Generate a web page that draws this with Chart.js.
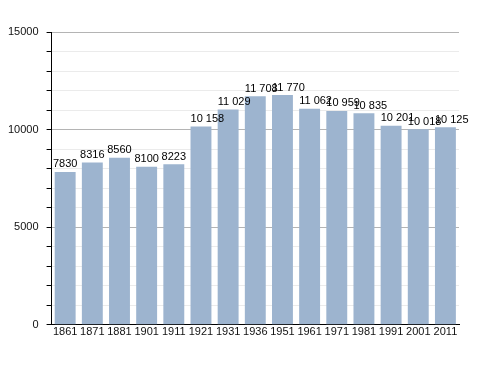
<!DOCTYPE html>
<html>
<head>
<meta charset="utf-8">
<script src="https://cdn.jsdelivr.net/npm/chart.js@4.4.0/dist/chart.umd.min.js"></script>
<style>
  html, body { margin: 0; padding: 0; background: #fff; }
  #chart { display: block; }
</style>
</head>
<body>
<canvas id="chart" width="488" height="373"></canvas>
<script>
const years = ['1861', '1871', '1881', '1901', '1911', '1921', '1931', '1936',
    '1951', '1961', '1971', '1981', '1991', '2001', '2011'];
const population = [7830, 8316, 8560, 8100, 8223, 10158, 11029, 11708,
    11770, 11062, 10959, 10835, 10201, 10018, 10125];

// "10 158" style, no separator under 10000
const formatValue = (v) => v >= 10000 ? String(v).replace(/\B(?=(\d{3})+(?!\d))/g, ' ') : String(v);

// value labels above the bars; the long ones start at the bar's left edge
const valueLabels = {
    id: 'valueLabels',
    afterDatasetsDraw: (chart) => {
        const ctx = chart.ctx;
        const meta = chart.getDatasetMeta(0);
        ctx.save();
        ctx.font = '11px "Liberation Sans", Arial, sans-serif';
        ctx.fillStyle = '#000';
        ctx.textBaseline = 'bottom';
        meta.data.forEach((bar, i) => {
            const v = population[i];
            if (v >= 10000) {
                ctx.textAlign = 'left';
                ctx.fillText(formatValue(v), bar.x - bar.width / 2, bar.y - 2);
            } else {
                ctx.textAlign = 'center';
                ctx.fillText(formatValue(v), bar.x, bar.y - 2);
            }
        });
        ctx.restore();
    }
};

const ctx = document.getElementById('chart').getContext('2d');
new Chart(ctx, {
    type: 'bar',
    data: {
        labels: years,
        datasets: [{
            data: population,
            backgroundColor: '#9db4cf',
            borderWidth: 0,
            categoryPercentage: 0.77,
            barPercentage: 1
        }]
    },
    options: {
        responsive: false,
        animation: false,
        layout: { padding: { left: 0, right: 29, top: 32, bottom: 33 } },
        plugins: {
            legend: { display: false },
            tooltip: { enabled: false }
        },
        scales: {
            x: {
                grid: { display: false, drawTicks: false },
                border: { color: '#000', width: 1 },
                ticks: {
                    color: '#111',
                    padding: 1,
                    maxRotation: 0,
                    autoSkip: false,
                    font: { family: '"Liberation Sans", Arial, sans-serif', size: 11 }
                }
            },
            y: {
                min: 0,
                max: 15000,
                border: { color: '#000', width: 1 },
                grid: {
                    color: (c) => c.tick && c.tick.value % 5000 === 0 ? '#b4b4b4' : '#ebebeb',
                    tickColor: '#000',
                    tickLength: 5,
                    drawTicks: true
                },
                ticks: {
                    stepSize: 1000,
                    color: '#111',
                    padding: 8,
                    font: { family: '"Liberation Sans", Arial, sans-serif', size: 11 },
                    callback: (v) => v % 5000 === 0 ? String(v) : ''
                }
            }
        }
    },
    plugins: [valueLabels]
});
</script>
</body>
</html>
